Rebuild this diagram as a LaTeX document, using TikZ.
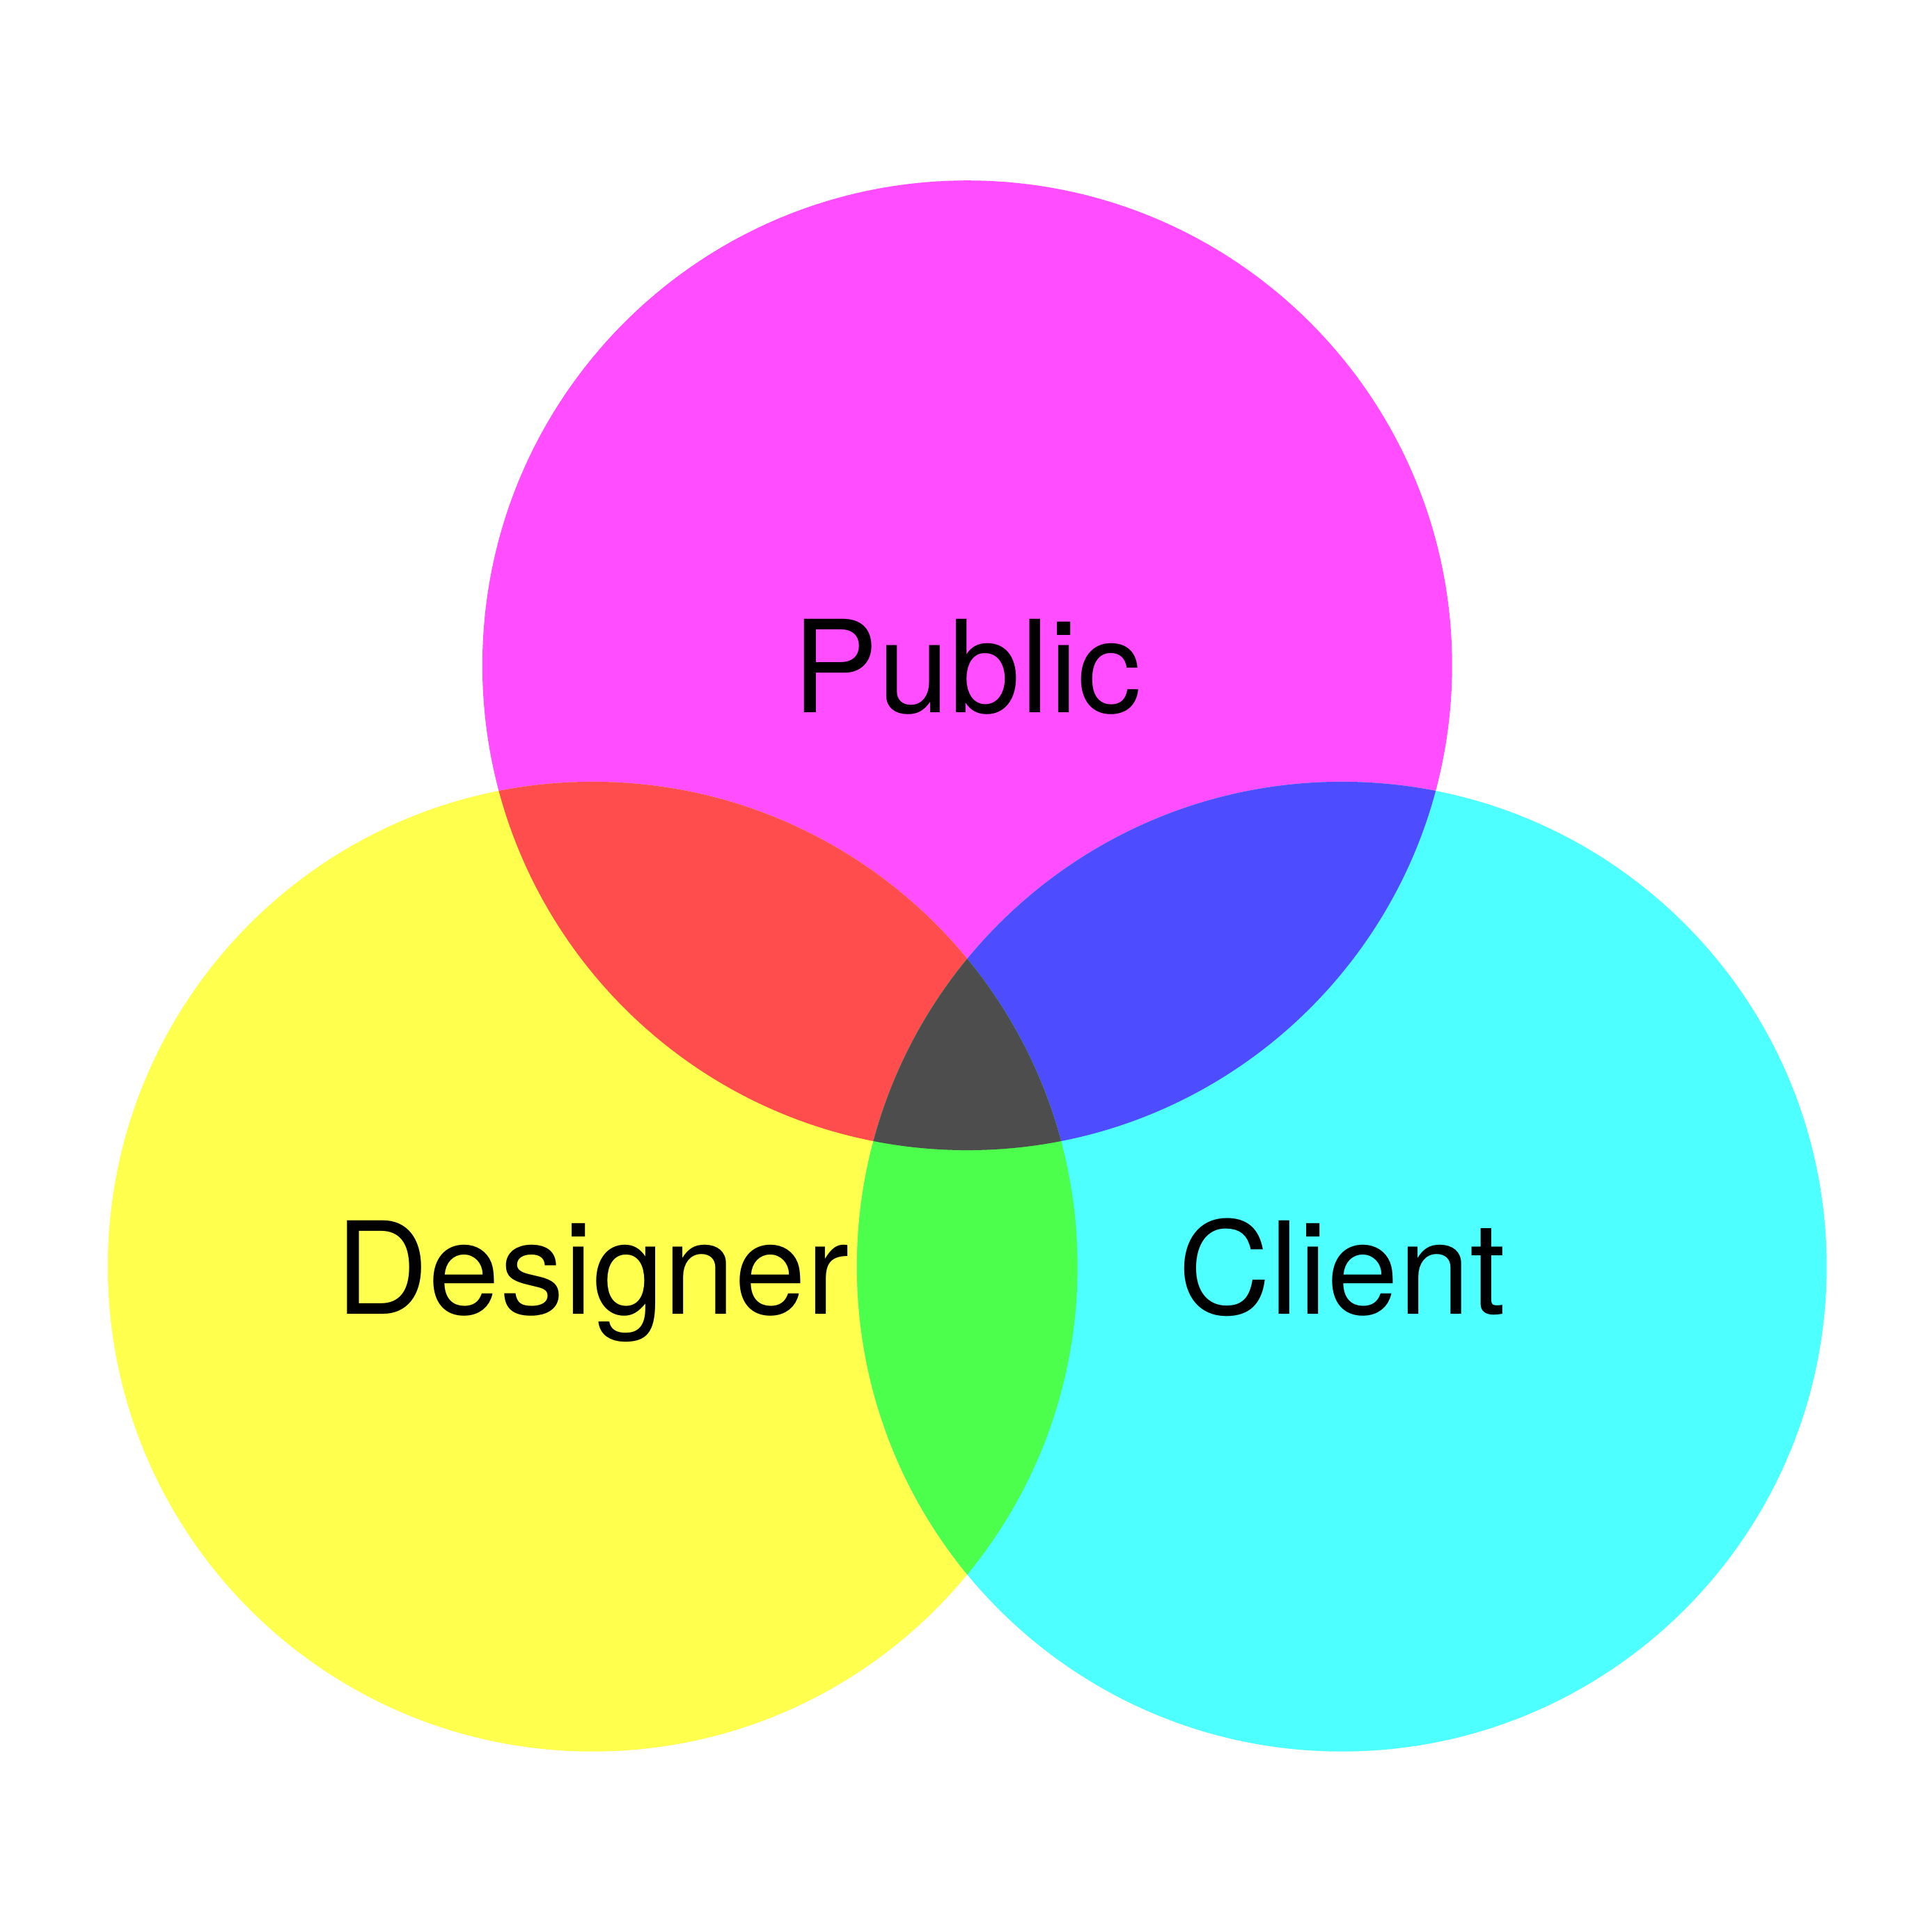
\documentclass[tikz,border=0pt]{standalone}
\usepackage{fontspec}
\setmainfont{TeX Gyre Heros}
\definecolor{pubfill}{RGB}{255,77,255}
\definecolor{desfill}{RGB}{255,255,77}
\definecolor{clifill}{RGB}{77,255,255}
\definecolor{pubdesfill}{RGB}{255,77,77}
\definecolor{pubclifill}{RGB}{77,77,255}
\definecolor{desclifill}{RGB}{77,255,77}
\definecolor{allfill}{RGB}{77,77,77}
\begin{document}
\begin{tikzpicture}[
                setname/.style={anchor=base, inner sep=0pt, yshift=-0.385cm,
                    font=\fontsize{29.6}{35}\selectfont},
                radius=3.935,
            ]
            \fill[white] (0,0) rectangle (15.68,15.68);
            \useasboundingbox (0,0) rectangle (15.68,15.68);
            \coordinate (pub) at (7.85,10.28);
            \coordinate (des) at (4.81,5.40);
            \coordinate (cli) at (10.89,5.40);
            % single sets
            \fill[pubfill] (pub) circle;
            \fill[desfill] (des) circle;
            \fill[clifill] (cli) circle;
            % pairwise overlaps
            \begin{scope}
                \clip (pub) circle;
                \fill[pubdesfill] (des) circle;
                \fill[pubclifill] (cli) circle;
            \end{scope}
            \begin{scope}
                \clip (des) circle;
                \fill[desclifill] (cli) circle;
                \clip (cli) circle;
                \fill[allfill] (pub) circle;
            \end{scope}
            \node[setname] (publabel) at (pub) {Public};
            \node[setname] (deslabel) at (des) {Designer};
            \node[setname] (clilabel) at (cli) {Client};
            \end{tikzpicture}
\end{document}
